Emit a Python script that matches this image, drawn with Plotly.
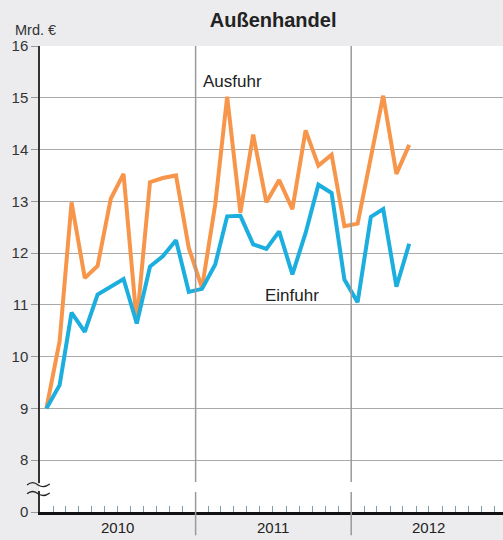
import plotly.graph_objects as go
import pandas as pd

# -----------------------
# DATA
# -----------------------
months = pd.date_range("2010-01-01", "2012-05-01", freq="MS")
ausfuhr = [9.0, 10.3, 12.98, 11.52, 11.75, 13.05, 13.53, 10.66, 13.37, 13.45, 13.5, 12.1,
           11.33, 12.94, 15.02, 12.78, 14.29, 12.98, 13.41, 12.85, 14.37, 13.69, 13.9, 12.52,
           12.57, 13.8, 15.04, 13.53, 14.09]
einfuhr = [9.0, 9.45, 10.85, 10.48, 11.2, 11.36, 11.5, 10.64, 11.74, 11.94, 12.25, 11.25,
           11.31, 11.78, 12.71, 12.72, 12.17, 12.08, 12.42, 11.59, 12.39, 13.32, 13.16, 11.49,
           11.05, 12.7, 12.85, 11.35, 12.18]
years = ["2010", "2011", "2012"]
ytick_vals = [7, 8, 9, 10, 11, 12, 13, 14, 15, 16]
ytick_text = ["0", "8", "9", "10", "11", "12", "13", "14", "15", "16"]

x = months + pd.Timedelta(days=15)

ORANGE = "#F7964A"
BLUE = "#1BAEDE"
BG = "#ECECEE"
FONT = "Liberation Sans, Arial, sans-serif"

fig = go.Figure()

fig.add_trace(go.Scatter(x=x, y=ausfuhr, mode="lines", name="Ausfuhr",
                         line=dict(color=ORANGE, width=4)))
fig.add_trace(go.Scatter(x=x, y=einfuhr, mode="lines", name="Einfuhr",
                         line=dict(color=BLUE, width=4)))

# -----------------------
# YEAR SEPARATORS (with gap at axis break)
# -----------------------
for yr in years[1:]:
    xd = f"{yr}-01-01"
    fig.add_shape(type="line", xref="x", yref="paper", x0=xd, x1=xd, y0=0.0644, y1=1,
                  line=dict(color="#9a9a9a", width=1.5))
    fig.add_shape(type="line", xref="x", yref="paper", x0=xd, x1=xd, y0=-0.05, y1=0.043,
                  line=dict(color="#9a9a9a", width=1.5))

# -----------------------
# AXIS BREAK
# -----------------------
fig.add_shape(type="rect", xref="paper", yref="paper", x0=-0.004, x1=0.006, y0=0.045, y1=0.062,
              fillcolor="white", line_width=0, layer="above")
for y0 in [0.058, 0.039]:
    a, b = y0 + 0.006, y0 - 0.004
    path = (f"M -0.028,{y0} Q -0.016,{a + 0.004} -0.004,{y0} "
            f"Q 0.008,{b - 0.004} 0.021,{y0 + 0.002}")
    fig.add_shape(type="path", xref="paper", yref="paper", path=path,
                  line=dict(color="#222", width=1.3), layer="above")

# -----------------------
# LABELS
# -----------------------
fig.add_annotation(x="2011-03-28", y=15.32, text="Ausfuhr", showarrow=False,
                   font=dict(size=17, color="#222", family=FONT))
fig.add_annotation(x="2011-08-14", y=11.18, text="Einfuhr", showarrow=False,
                   font=dict(size=17, color="#222", family=FONT))

for yr in years:
    fig.add_annotation(x=f"{yr}-07-01", y=0, yref="paper", yanchor="middle", yshift=-15,
                       text=yr, showarrow=False,
                       font=dict(size=15, color="#222", family=FONT))

fig.add_annotation(x=-0.059, xref="paper", xanchor="left", y=1, yref="paper",
                   yanchor="middle", yshift=16, text="Mrd. €", showarrow=False,
                   font=dict(size=14.5, color="#333", family=FONT))

# -----------------------
# LAYOUT
# -----------------------
fig.update_layout(
    width=503, height=540,
    margin=dict(l=40, r=0, t=46, b=28),
    paper_bgcolor=BG,
    plot_bgcolor="white",
    showlegend=False,
    font=dict(family=FONT, color="#333"),
    title=dict(text="<b>Außenhandel</b>", x=0.543, xanchor="center",
               yref="container", y=1 - 20 / 540, yanchor="middle",
               font=dict(size=20, color="#222", family=FONT)),
    xaxis=dict(
        type="date",
        range=["2010-01-01", "2012-12-22"],
        tick0="2010-01-01", dtick="M1",
        ticks="inside", ticklen=6, tickwidth=1.2, tickcolor="#7f9fae",
        showticklabels=False, showgrid=False, zeroline=False,
        showline=True, linecolor="#111", linewidth=2.5,
    ),
    yaxis=dict(
        range=[7, 16],
        tickvals=ytick_vals, ticktext=ytick_text,
        ticks="outside", ticklen=7, tickcolor="#999", tickwidth=1.2,
        tickfont=dict(size=15, color="#333"),
        showgrid=True, gridcolor="#aaaaaa", gridwidth=1.2,
        zeroline=False, showline=True, linecolor="#333", linewidth=1.5,
    ),
)

fig.write_html("out.html", config={"displayModeBar": False},
               post_script="document.body.style.margin='0';")
